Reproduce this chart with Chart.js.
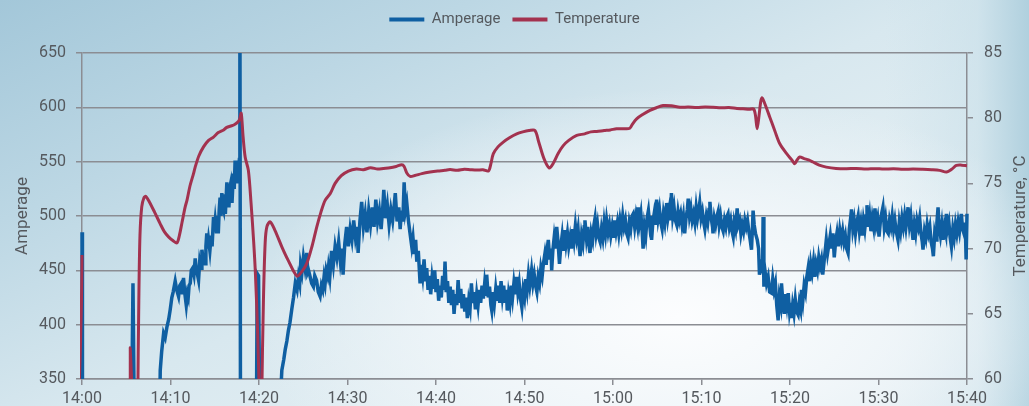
<!DOCTYPE html>
<html>
<head>
<meta charset="utf-8">
<script src="https://cdn.jsdelivr.net/npm/chart.js@4.4.1/dist/chart.umd.min.js"></script>
<style>
  html, body { margin: 0; padding: 0; }
  body {
    width: 1029px; height: 406px; overflow: hidden;
    background:
      radial-gradient(ellipse 55% 75% at 66% 78%, rgba(252,253,254,1) 0%, rgba(242,247,250,0.9) 35%, rgba(232,241,246,0) 75%),
      linear-gradient(to left, rgba(176,208,222,1) 0%, rgba(200,223,233,0.6) 5%, rgba(220,234,241,0) 14%),
      linear-gradient(155deg, #a3c7d9 0%, #bcd7e4 25%, #d8e8ef 50%, #e6f0f4 75%, #dce9ef 100%);
  }
  canvas { display: block; }
</style>
</head>
<body>
<canvas id="grafico" width="1029" height="406"></canvas>
<script>
const timeLabels = ['14:00', '14:10', '14:20', '14:30', '14:40', '14:50', '15:00', '15:10', '15:20', '15:30', '15:40'];

// [minutos depois das 14:00, valor]
const ampReadings = [
    [0, 485], [0.05, 200], [5.45, 200], [5.76, 438], [6.05, 200], [8.6, 200],
    [8.84, 358], [9.0, 375], [9.22, 392], [9.4, 388], [9.6, 398], [9.8, 405], [9.97, 414], [10.15, 425], [10.3, 430], [10.53, 440],
    [10.7, 432], [10.91, 426], [11.05, 436], [11.2, 438], [11.35, 428], [11.47, 443], [11.6, 430], [11.78, 418], [11.9, 428], [12.0, 425],
    [12.1, 436], [12.23, 438], [12.35, 450], [12.5, 452], [12.65, 446], [12.79, 461], [12.9, 452], [13.0, 448], [13.17, 441], [13.3, 458],
    [13.45, 452], [13.55, 469], [13.7, 460], [13.9, 456], [14.0, 472], [14.1, 484], [14.2, 470], [14.3, 478], [14.45, 468], [14.6, 482],
    [14.7, 472], [14.86, 499], [14.95, 488], [15.05, 496], [15.2, 484], [15.3, 500], [15.4, 484], [15.5, 505], [15.6, 517], [15.7, 500],
    [15.8, 521], [15.9, 508], [16.0, 505], [16.1, 520], [16.2, 502], [16.37, 531], [16.5, 515], [16.6, 508], [16.7, 526], [16.8, 530],
    [16.95, 512], [17.1, 539], [17.2, 525], [17.3, 551], [17.4, 535], [17.5, 551], [17.6, 530], [17.7, 545], [17.78, 552], [17.84, 720],
    [17.92, 250], [19.7, 300], [19.8, 447], [19.95, 445], [20.1, 300],
    [22.35, 320], [22.58, 358], [22.8, 368], [22.96, 377], [23.15, 385], [23.33, 395], [23.5, 402], [23.7, 414], [23.9, 425], [24.1, 438],
    [24.3, 432], [24.46, 444], [24.6, 438], [24.7, 455], [24.85, 448], [25.02, 462], [25.2, 452], [25.4, 466], [25.5, 448], [25.6, 450],
    [25.78, 444], [25.95, 438], [26.15, 435], [26.3, 445], [26.5, 441], [26.7, 430], [26.9, 426], [27.05, 436], [27.2, 432], [27.35, 444],
    [27.47, 438], [27.6, 450], [27.75, 445], [27.85, 453], [28.0, 444],
    [28.2, 468], [28.4, 455], [28.6, 472], [28.8, 462], [29.0, 476], [29.2, 458], [29.4, 470], [29.5, 446], [29.7, 475], [29.9, 490],
    [30.1, 472], [30.3, 488], [30.5, 478], [30.7, 496], [30.9, 480], [31.1, 490], [31.2, 466], [31.4, 495], [31.6, 513], [31.8, 490],
    [32.0, 502], [32.2, 485], [32.4, 505], [32.6, 492], [32.8, 508], [33.0, 490], [33.2, 515], [33.4, 495], [33.6, 505], [33.8, 488],
    [34.0, 510], [34.1, 524], [34.3, 498], [34.5, 510], [34.7, 492], [34.9, 506], [35.1, 496], [35.3, 512], [35.4, 521], [35.6, 495],
    [35.8, 508], [35.95, 488], [36.1, 505], [36.25, 495], [36.4, 531], [36.55, 505], [36.7, 512], [36.88, 496], [37.05, 485], [37.26, 472],
    [37.4, 480], [37.55, 465], [37.7, 478], [37.83, 458], [38.0, 468], [38.2, 438], [38.35, 455], [38.5, 445], [38.65, 460], [38.8, 440],
    [38.95, 452], [39.1, 432], [39.25, 445], [39.4, 428], [39.55, 443], [39.7, 433], [39.85, 450], [40.0, 430], [40.15, 442], [40.3, 422],
    [40.45, 436], [40.6, 425], [40.75, 445], [40.9, 432], [41.02, 458], [41.15, 430], [41.3, 440], [41.45, 420], [41.6, 435], [41.75, 418],
    [41.9, 432], [42.04, 410], [42.2, 428], [42.35, 418], [42.5, 441], [42.65, 420], [42.8, 433], [42.95, 415], [43.1, 428], [43.25, 412],
    [43.4, 425], [43.54, 406], [43.7, 422], [43.85, 415], [44.0, 438], [44.15, 420], [44.3, 430], [44.45, 414], [44.6, 428], [44.75, 418],
    [44.9, 432], [45.05, 420], [45.2, 436], [45.35, 424], [45.5, 438], [45.65, 428], [45.73, 446], [45.9, 425], [46.05, 435], [46.2, 418],
    [46.3, 413], [46.45, 430], [46.6, 420], [46.75, 433], [46.9, 422], [47.05, 436], [47.2, 420], [47.35, 440], [47.5, 426], [47.65, 436],
    [47.8, 420], [47.95, 432], [48.05, 413], [48.2, 428], [48.35, 420], [48.5, 436], [48.65, 425], [48.8, 438], [48.95, 428], [49.1, 444],
    [49.25, 430], [49.4, 438], [49.55, 424], [49.7, 416], [49.85, 432], [50.0, 425], [50.15, 442], [50.3, 432], [50.45, 446], [50.6, 436],
    [50.8, 450], [50.95, 438], [51.1, 446], [51.25, 436], [51.4, 430], [51.55, 444], [51.7, 438], [51.85, 452], [52.0, 445], [52.12, 455],
    [52.3, 465], [52.45, 455], [52.6, 472], [52.69, 478], [52.85, 460], [53.0, 470], [53.07, 450], [53.2, 468], [53.35, 480], [53.5, 470],
    [53.64, 490], [53.8, 475], [53.95, 456], [54.1, 472], [54.25, 482], [54.4, 468], [54.57, 487], [54.7, 475], [54.85, 484], [55.0, 472],
    [55.15, 480], [55.3, 470], [55.45, 488], [55.6, 478], [55.75, 491], [55.9, 480], [56.05, 488], [56.2, 470], [56.28, 463], [56.45, 482],
    [56.6, 475], [56.75, 490], [56.83, 496], [57.0, 480], [57.15, 490], [57.3, 472], [57.4, 466], [57.55, 484], [57.7, 478], [57.85, 492],
    [57.97, 498], [58.1, 484], [58.25, 492], [58.4, 480], [58.55, 476], [58.7, 488], [58.85, 480], [59.0, 494], [59.15, 484], [59.28, 496],
    [59.45, 485], [59.6, 492], [59.75, 482], [59.9, 490], [60.05, 480], [60.2, 496], [60.35, 486], [60.5, 494], [60.65, 484], [60.8, 496],
    [60.95, 488], [61.1, 500], [61.25, 490], [61.4, 496], [61.55, 484], [61.7, 480], [61.85, 494], [62.0, 488], [62.15, 500], [62.28, 502],
    [62.45, 490], [62.6, 500], [62.75, 492], [62.85, 508], [63.0, 494], [63.15, 502], [63.3, 485], [63.4, 470], [63.55, 490], [63.7, 482],
    [63.85, 498], [64.0, 505], [64.15, 492], [64.3, 500], [64.36, 478], [64.5, 494], [64.65, 502], [64.8, 492], [64.93, 515], [65.1, 498],
    [65.25, 506], [65.4, 494], [65.55, 488], [65.7, 502], [65.85, 494], [66.0, 508], [66.06, 512], [66.2, 498], [66.35, 506], [66.5, 496],
    [66.6, 521], [66.75, 500], [66.9, 508], [67.05, 496], [67.2, 492], [67.35, 504], [67.5, 496], [67.65, 502], [67.8, 492], [67.95, 500],
    [68.1, 484], [68.25, 498], [68.4, 506], [68.5, 516], [68.65, 500], [68.8, 507], [68.95, 496], [69.1, 502], [69.25, 494], [69.4, 508],
    [69.55, 498], [69.7, 506], [69.8, 512], [69.95, 498], [70.1, 504], [70.25, 494], [70.38, 488], [70.55, 500], [70.7, 494], [70.85, 506],
    [70.95, 513], [71.1, 498], [71.25, 490], [71.3, 484], [71.45, 498], [71.6, 492], [71.75, 500], [71.88, 504], [72.0, 492], [72.15, 500],
    [72.3, 490], [72.45, 486], [72.6, 496], [72.75, 490], [72.9, 500], [73.0, 502], [73.15, 490], [73.3, 496], [73.45, 486], [73.58, 481],
    [73.7, 494], [73.85, 488], [74.03, 507], [74.15, 492], [74.3, 496], [74.45, 484], [74.6, 492], [74.75, 486], [74.9, 496], [75.05, 490],
    [75.2, 496], [75.35, 486], [75.5, 478], [75.65, 469], [75.75, 488], [75.83, 505], [75.95, 492], [76.1, 484], [76.3, 478], [76.45, 470],
    [76.55, 446], [76.7, 455], [76.9, 450], [76.96, 499], [77.05, 435], [77.2, 448], [77.35, 438], [77.53, 444], [77.7, 430], [77.9, 429],
    [78.05, 442], [78.2, 432], [78.35, 438], [78.5, 418], [78.66, 404], [78.8, 425], [78.95, 418], [79.04, 438], [79.2, 420], [79.35, 410],
    [79.5, 428], [79.65, 418], [79.8, 429], [79.95, 412], [80.1, 420], [80.17, 406], [80.3, 418], [80.45, 410], [80.6, 423], [80.75, 412],
    [80.92, 409], [81.05, 420], [81.2, 414], [81.3, 432], [81.45, 422], [81.6, 436], [81.75, 430], [81.9, 444], [82.05, 452], [82.2, 440],
    [82.35, 456], [82.5, 448], [82.65, 458], [82.8, 444], [82.95, 456], [83.1, 450], [83.25, 462], [83.4, 454], [83.55, 460], [83.7, 446],
    [83.85, 458], [84.0, 470], [84.1, 478], [84.25, 466], [84.4, 474], [84.55, 482], [84.7, 470], [84.85, 484], [85.0, 462], [85.15, 476],
    [85.3, 484], [85.45, 472], [85.63, 487], [85.8, 478], [85.95, 486], [86.1, 476], [86.25, 482], [86.4, 470], [86.56, 466], [86.7, 488],
    [86.85, 498], [86.95, 506], [87.1, 488], [87.25, 496], [87.4, 484], [87.55, 494], [87.7, 500], [87.85, 486], [88.0, 494], [88.15, 482],
    [88.3, 496], [88.45, 488], [88.6, 500], [88.7, 510], [88.85, 490], [89.0, 500], [89.15, 486], [89.3, 498], [89.45, 490], [89.6, 507],
    [89.75, 492], [89.9, 498], [90.06, 481], [90.2, 494], [90.35, 502], [90.5, 508], [90.65, 490], [90.8, 498], [90.95, 486], [91.1, 484],
    [91.25, 496], [91.4, 490], [91.55, 500], [91.7, 488], [91.85, 496], [92.0, 486], [92.2, 478], [92.35, 494], [92.5, 486], [92.65, 498],
    [92.8, 490], [92.95, 500], [93.1, 490], [93.34, 508], [93.5, 492], [93.65, 500], [93.8, 486], [93.9, 478], [94.05, 492], [94.2, 484],
    [94.35, 496], [94.5, 490], [94.65, 498], [94.8, 484], [94.95, 476], [95.03, 469], [95.2, 486], [95.35, 480], [95.5, 492], [95.65, 484],
    [95.8, 490], [95.95, 476], [96.1, 470], [96.2, 463], [96.35, 484], [96.5, 478], [96.6, 494], [96.73, 508], [96.85, 490], [97.0, 482],
    [97.15, 492], [97.3, 478], [97.45, 490], [97.6, 484], [97.67, 502], [97.8, 488], [97.95, 494], [98.1, 480], [98.24, 472], [98.4, 488],
    [98.55, 480], [98.7, 492], [98.85, 484], [99.0, 494], [99.15, 486], [99.36, 502], [99.5, 488], [99.65, 484], [99.8, 494], [99.9, 460],
    [100, 502]
];

const tempReadings = [
    [0, 69.5], [0.05, 40], [5.35, 40], [5.45, 62.4], [5.55, 40], [6.2, 45], [6.3, 58], [6.42, 66], [6.55, 71], [6.75, 73.2],
    [7.0, 73.9], [7.22, 74.0], [7.6, 73.6], [8.2, 72.8], [8.84, 71.9], [9.3, 71.3], [9.78, 70.9], [10.3, 70.6], [10.73, 70.44], [11.0, 71.0],
    [11.3, 72.0], [11.66, 73.2], [11.86, 73.7], [12.2, 74.8], [12.6, 75.75], [12.79, 76.25], [13.2, 77.1], [13.73, 77.8], [14.3, 78.3], [14.86, 78.55],
    [15.4, 78.9], [16.0, 79.1], [16.36, 79.3], [16.8, 79.4], [17.2, 79.5], [17.6, 79.7], [17.8, 79.9], [17.99, 80.38], [18.2, 78.6], [18.44, 77.0],
    [18.8, 76.0], [19.1, 73.5], [19.4, 70.5], [19.6, 68.0], [19.85, 63.5], [20.05, 58], [20.2, 50], [20.3, 58], [20.5, 66], [20.7, 70.5],
    [20.9, 71.7], [21.26, 72.05], [21.8, 71.4], [22.58, 70.14], [23.3, 69.1], [24.28, 67.9], [24.8, 68.2], [25.4, 68.87], [26.0, 70.2], [26.53, 71.67],
    [27.0, 72.8], [27.47, 73.7], [28.04, 74.2], [28.6, 75.0], [29.3, 75.6], [30.1, 75.95], [31.0, 76.1], [31.8, 76.05], [32.6, 76.2], [33.4, 76.1],
    [34.06, 76.15], [34.8, 76.2], [35.5, 76.3], [36.13, 76.43], [36.4, 76.3], [36.7, 75.8], [37.07, 75.54], [37.6, 75.6], [38.4, 75.75], [39.33, 75.87],
    [40.2, 75.95], [41.0, 76.0], [41.59, 76.06], [42.4, 76.0], [43.2, 76.08], [43.85, 76.05], [44.6, 76.02], [45.3, 76.05], [45.92, 75.95], [46.2, 76.5],
    [46.48, 77.28], [47.0, 77.8], [47.6, 78.17], [48.3, 78.5], [49.12, 78.8], [49.8, 78.95], [50.5, 79.05], [51.18, 79.06], [51.6, 78.2], [52.2, 76.9],
    [52.8, 76.18], [53.3, 76.6], [53.8, 77.3], [54.38, 77.9], [55.0, 78.3], [55.9, 78.68], [56.8, 78.8], [57.5, 78.95], [58.15, 78.98], [59.0, 79.05],
    [59.7, 79.1], [60.4, 79.19], [61.2, 79.2], [61.9, 79.23], [62.2, 79.55], [62.67, 79.95], [63.4, 80.3], [64.17, 80.6], [64.9, 80.8], [65.67, 80.97],
    [66.6, 80.95], [67.56, 80.84], [68.5, 80.85], [69.5, 80.82], [70.4, 80.86], [71.3, 80.84], [72.2, 80.8], [73.1, 80.82], [74.0, 80.75], [74.7, 80.72],
    [75.4, 80.68], [75.9, 80.7], [76.1, 80.2], [76.29, 79.19], [76.5, 80.2], [76.7, 81.3], [76.85, 81.56], [77.1, 81.2], [77.72, 80.08], [78.3, 79.0],
    [78.85, 78.04], [79.6, 77.3], [80.2, 76.8], [80.54, 76.51], [80.8, 76.8], [81.1, 77.02], [81.6, 76.9], [82.1, 76.8], [82.6, 76.64], [83.3, 76.4],
    [84.1, 76.25], [85.2, 76.15], [86.4, 76.13], [87.5, 76.15], [88.6, 76.1], [89.6, 76.13], [90.6, 76.1], [91.7, 76.12], [92.8, 76.08], [93.9, 76.1],
    [95.0, 76.08], [96.0, 76.05], [96.9, 76.0], [97.7, 75.87], [98.3, 76.1], [98.8, 76.38], [99.4, 76.4], [100, 76.35]
];

const corAmp = '#0f5fa2';
const corTemp = '#a3324f';
const corGrade = '#8b8d93';
const corTexto = '#55595e';

Chart.defaults.font.family = 'Roboto';
Chart.defaults.color = corTexto;

const grafico = document.getElementById('grafico');

new Chart(grafico, {
    type: 'line',
    data: {
        datasets: [{
            label: 'Temperature',
            yAxisID: 'y1',
            data: tempReadings.map(([t, v]) => ({ x: t, y: v })),
            borderColor: corTemp,
            backgroundColor: corTemp,
            borderWidth: 3,
            pointRadius: 0,
            tension: 0.3,
            clip: { left: 2, right: 2, top: 0, bottom: 0 }
        }, {
            label: 'Amperage',
            yAxisID: 'y',
            data: ampReadings.map(([t, v]) => ({ x: t, y: v })),
            borderColor: corAmp,
            backgroundColor: corAmp,
            borderWidth: 3.5,
            pointRadius: 0,
            tension: 0,
            clip: { left: 2, right: 2, top: 0, bottom: 0 }
        }]
    },
    options: {
        responsive: false,
        animation: false,
        layout: { padding: 0 },
        plugins: {
            tooltip: { enabled: false },
            legend: {
                reverse: true,
                labels: {
                    boxWidth: 35,
                    boxHeight: 4,
                    padding: 12,
                    font: { size: 15 },
                    color: corTexto,
                    generateLabels(chart) {
                        const items = Chart.defaults.plugins.legend.labels.generateLabels(chart);
                        items.forEach(item => { item.lineWidth = 0; item.fillStyle = item.strokeStyle; });
                        return items;
                    }
                }
            }
        },
        scales: {
            x: {
                type: 'linear',
                min: 0,
                max: 100,
                ticks: {
                    stepSize: 10,
                    padding: 4,
                    font: { size: 16 },
                    maxRotation: 0,
                    callback: value => timeLabels[Math.round(value / 10)]
                },
                grid: { drawOnChartArea: false, color: corGrade, lineWidth: 1.5, tickLength: 6 },
                border: { color: corGrade, width: 1.5 },
                afterFit(scale) { scale.height = 27; }
            },
            y: {
                position: 'left',
                min: 350,
                max: 650,
                ticks: { stepSize: 50, padding: 10, font: { size: 16 } },
                grid: { color: corGrade, lineWidth: 1.5, tickLength: 6 },
                border: { color: corGrade, width: 1.5 },
                title: {
                    display: true,
                    text: 'Amperage',
                    font: { size: 17 },
                    color: corTexto,
                    padding: { top: 13, bottom: 0 }
                },
                afterFit(scale) { scale.width = 82; }
            },
            y1: {
                position: 'right',
                min: 60,
                max: 85,
                ticks: { stepSize: 5, padding: 11, font: { size: 16 } },
                grid: { drawOnChartArea: false, color: corGrade, lineWidth: 1.5, tickLength: 6 },
                border: { color: corGrade, width: 1.5 },
                afterFit(scale) { scale.width = 62; }
            }
        }
    },
    plugins: [{
        id: 'alturaLegenda',
        beforeUpdate(chart) {
            const lg = chart.legend;
            if (lg && !lg._alturaFixa) {
                const fit = lg.fit.bind(lg);
                lg.fit = function () { fit(); this.height = 53; };
                lg._alturaFixa = true;
            }
        }
    }, {
        id: 'tituloDireita',
        afterDraw(chart) {
            const { ctx, chartArea } = chart;
            ctx.save();
            ctx.translate(1021, (chartArea.top + chartArea.bottom) / 2);
            ctx.rotate(-Math.PI / 2);
            ctx.fillStyle = corTexto;
            ctx.font = '17px Roboto';
            ctx.textAlign = 'center';
            ctx.textBaseline = 'middle';
            ctx.fillText('Temperature, °C', 0, 0);
            ctx.restore();
        }
    }]
});
</script>
</body>
</html>
